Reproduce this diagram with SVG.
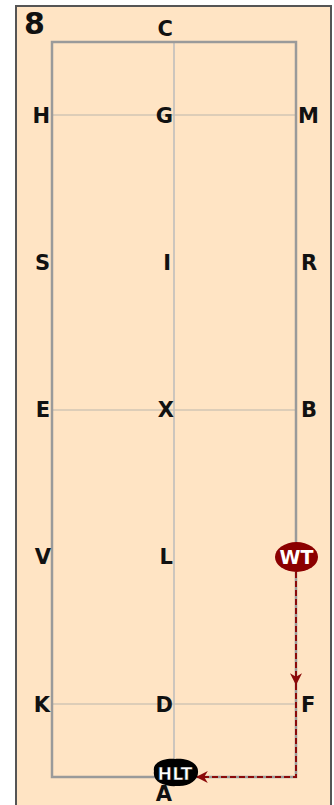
<svg xmlns="http://www.w3.org/2000/svg" width="334" height="805" viewBox="0 0 334 805">
<style>
.lbl{font-family:"DejaVu Sans",Verdana,sans-serif;font-weight:bold;font-size:21px;fill:#111}
.grid{stroke:#d2c6b4;stroke-width:1.5;fill:none}
.path{stroke:#8b0a0a;stroke-width:2;stroke-dasharray:6 3;fill:none}
.ntxt{font-family:"DejaVu Sans",Verdana,sans-serif;font-weight:bold;fill:#fff;text-anchor:middle}
</style>
<defs>
<marker id="ah" viewBox="0 0 10 10" refX="9" refY="5" markerWidth="6" markerHeight="6" orient="auto">
<path d="M0,0 L10,5 L0,10 L3,5 Z" fill="#8b0a0a"/>
</marker>
</defs>
<rect x="0" y="0" width="334" height="805" fill="#fff"/>
<rect x="16" y="6" width="315" height="805" fill="#ffe4c4" stroke="#555" stroke-width="2"/>
<g id="arena">
<line class="grid" x1="52" y1="115" x2="296" y2="115"/>
<line class="grid" x1="52" y1="410" x2="296" y2="410"/>
<line class="grid" x1="52" y1="704" x2="296" y2="704"/>
<line x1="174" y1="42" x2="174" y2="777" stroke="#bbb" stroke-width="1.5"/>
<rect x="52" y="42" width="244" height="735" fill="none" stroke="#9a9a9a" stroke-width="2.5"/>
</g>
<text class="lbl" x="24" y="34" style="font-size:30px">8</text>
<g id="letters" class="lbl">
<text x="173" y="36" text-anchor="end">C</text>
<text x="50" y="123" text-anchor="end">H</text>
<text x="173" y="123" text-anchor="end">G</text>
<text x="298" y="123">M</text>
<text x="50" y="270" text-anchor="end">S</text>
<text x="171" y="270" text-anchor="end">I</text>
<text x="301" y="270">R</text>
<text x="50" y="417" text-anchor="end">E</text>
<text x="174" y="417" text-anchor="end">X</text>
<text x="301" y="417">B</text>
<text x="51" y="564" text-anchor="end">V</text>
<text x="173" y="564" text-anchor="end">L</text>
<text x="50" y="712" text-anchor="end">K</text>
<text x="173" y="712" text-anchor="end">D</text>
<text x="301" y="712">F</text>
<text x="172" y="801" text-anchor="end">A</text>
</g>
<g id="connectors">
<path class="path" d="M296,572 L296,684" marker-end="url(#ah)"/>
<path class="path" d="M296,684 L296,777 L197,777" marker-end="url(#ah)"/>
</g>
<g id="WT">
<ellipse cx="296.5" cy="557" rx="21.5" ry="15" fill="#8b0000"/>
<text class="ntxt" x="296.5" y="564" style="font-size:19px">WT</text>
</g>
<g id="HLT">
<path d="M154,771 C152,762 165,758 175,759 C187,758 198,763 198,771 C199,780 189,787 177,786 C165,787 152,782 154,771 Z" fill="#000"/>
<text class="ntxt" x="175" y="780" style="font-size:17.5px" stroke="#000" stroke-width="0.6">HLT</text>
</g>
</svg>
